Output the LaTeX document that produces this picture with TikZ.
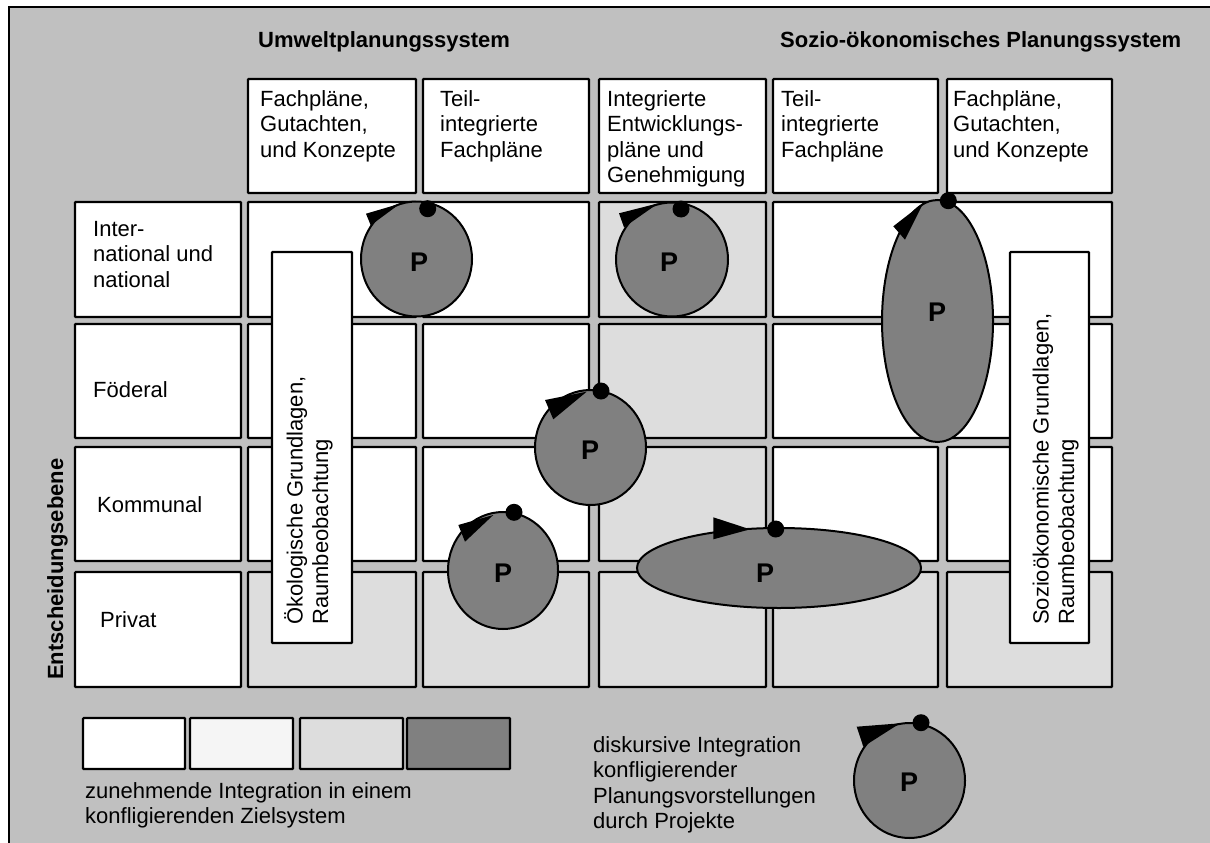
\documentclass[tikz,border=0pt]{standalone}
\usepackage{fontspec}
\setmainfont{Liberation Sans}
\usetikzlibrary{shapes.geometric}
\definecolor{bg}{HTML}{C0C0C0}
\definecolor{lg}{HTML}{DDDDDD}
\definecolor{vl}{HTML}{F5F5F5}
\definecolor{pg}{HTML}{808080}
\begin{document}
\begin{tikzpicture}[x=1pt,y=-1pt,
  cell/.style={draw=black, line width=2.2pt, rounded corners=0.8pt},
  txt/.style={font=\fontsize{22}{25.5}\selectfont, inner sep=0pt, align=left, anchor=base west},
  ttl/.style={font=\fontsize{22}{25.5}\selectfont\bfseries, inner sep=0pt, anchor=base west},
  pl/.style={font=\fontsize{27}{30}\selectfont\bfseries, inner sep=0pt},
  pshape/.style={ellipse, draw=black, line width=2pt, fill=pg, inner sep=0pt, outer sep=0pt},
  dotc/.style={fill=black},
  arr/.style={fill=black}]
\clip (0,0) rectangle (1210,843);
\useasboundingbox (0,0) rectangle (1210,843);
\fill[white] (0,0) rectangle (1210,843);
\draw[fill=bg, line width=2.5pt] (9,7) rectangle (1240,880);

% titles
\node[ttl] (t1) at (258,48) {Umweltplanungssystem};
\node[ttl] (t2) at (780,48) {Sozio-ökonomisches Planungssystem};

% header boxes
\draw[cell, fill=white] (248,79) rectangle (416,193);
\draw[cell, fill=white] (423,79) rectangle (589,193);
\draw[cell, fill=white] (599,79) rectangle (766,193);
\draw[cell, fill=white] (773,79) rectangle (938,193);
\draw[cell, fill=white] (947,79) rectangle (1112,193);
\node[txt] (h1) at (260,157) {Fachpläne,\\Gutachten,\\und Konzepte};
\node[txt] (h2) at (440,157) {Teil-\\integrierte\\Fachpläne};
\node[txt] (h3) at (607,182.5) {Integrierte\\Entwicklungs-\\pläne und\\Genehmigung};
\node[txt] (h4) at (781,157) {Teil-\\integrierte\\Fachpläne};
\node[txt] (h5) at (953,157) {Fachpläne,\\Gutachten,\\und Konzepte};

% row label boxes
\draw[cell, fill=white] (75,202) rectangle (241,317);
\draw[cell, fill=white] (75,324) rectangle (241,438);
\draw[cell, fill=white] (75,447) rectangle (241,561);
\draw[cell, fill=white] (75,572) rectangle (241,687);
\node[txt] (r1) at (93,287) {Inter-\\national und\\national};
\node[txt] (r2) at (93,397) {Föderal};
\node[txt] (r3) at (97,512) {Kommunal};
\node[txt] (r4) at (100,627) {Privat};

% grid row 1
\draw[cell, fill=white] (248,202) rectangle (416,317);
\draw[cell, fill=white] (423,202) rectangle (589,317);
\draw[cell, fill=lg] (599,202) rectangle (766,317);
\draw[cell, fill=white] (773,202) rectangle (938,317);
\draw[cell, fill=white] (947,202) rectangle (1112,317);
% row 2
\draw[cell, fill=white] (248,324) rectangle (416,438);
\draw[cell, fill=white] (423,324) rectangle (589,438);
\draw[cell, fill=lg] (599,324) rectangle (766,438);
\draw[cell, fill=white] (773,324) rectangle (938,438);
\draw[cell, fill=white] (947,324) rectangle (1112,438);
% row 3
\draw[cell, fill=white] (248,447) rectangle (416,561);
\draw[cell, fill=white] (423,447) rectangle (589,561);
\draw[cell, fill=lg] (599,447) rectangle (766,561);
\draw[cell, fill=white] (773,447) rectangle (938,561);
\draw[cell, fill=white] (947,447) rectangle (1112,561);
% row 4
\draw[cell, fill=lg] (248,572) rectangle (416,687);
\draw[cell, fill=lg] (423,572) rectangle (589,687);
\draw[cell, fill=lg] (599,572) rectangle (766,687);
\draw[cell, fill=lg] (773,572) rectangle (938,687);
\draw[cell, fill=lg] (947,572) rectangle (1112,687);

% vertical boxes
\draw[cell, fill=white] (272,252) rectangle (352,643);
\draw[cell, fill=white] (1010,252) rectangle (1089,643);
\node[txt, rotate=90] (v1) at (328,625) {Ökologische Grundlagen,\\Raumbeobachtung};
\node[txt, rotate=90] (v2) at (1074,625) {Sozioökonomische Grundlagen,\\Raumbeobachtung};

% axis label
\node[ttl, rotate=90] (ax) at (63,680) {Entscheidungsebene};

% P shapes
\node[pshape, minimum width=111pt, minimum height=115pt] (c1) at (416.5,259) {};
\node[pshape, minimum width=112pt, minimum height=114pt] (c2) at (672,259.5) {};
\node[pshape, minimum width=111pt, minimum height=115pt] (c3) at (590.5,447.5) {};
\node[pshape, minimum width=110pt, minimum height=117pt] (c4) at (503,570.5) {};
\node[pshape, minimum width=284pt, minimum height=80pt] (e5) at (779,568) {};
\node[pshape, minimum width=111pt, minimum height=242pt] (e6) at (937.5,321) {};
\node[pshape, minimum width=111pt, minimum height=115pt] (lc) at (909.5,780.5) {};

\node[pl] (p1) at (419,262) {P};
\node[pl] (p2) at (669,262) {P};
\node[pl] (p3) at (590,450) {P};
\node[pl] (p4) at (503,573) {P};
\node[pl] (p5) at (765,573) {P};
\node[pl] (p6) at (937,312) {P};
\node[pl] (p7) at (909,782) {P};

% arrowheads
\fill[arr] (366,213.7) -- (370.7,225.3) -- (400,203.7) -- cycle;
\fill[arr] (619,213.3) -- (624,227.3) -- (658.3,203.3) -- cycle;
\fill[arr] (545,400) -- (553.3,419.3) -- (586.7,391.7) -- cycle;
\fill[arr] (458.3,525) -- (465,541.7) -- (493.3,515) -- cycle;
\fill[arr] (713.3,517.3) -- (713.3,539.3) -- (750,529.3) -- cycle;
\fill[arr] (893.3,226.3) -- (905,239.7) -- (923.3,203) -- cycle;
\fill[arr] (856.7,726.7) -- (863.3,746.7) -- (900,723.3) -- cycle;

% dots
\fill[dotc] (427.7,208.7) circle (8.5pt);
\fill[dotc] (681,209) circle (8.5pt);
\fill[dotc] (601,391) circle (8.5pt);
\fill[dotc] (514,512.3) circle (8.5pt);
\fill[dotc] (775.7,529) circle (8.5pt);
\fill[dotc] (948.3,200.7) circle (8.5pt);
\fill[dotc] (921,722.7) circle (8.5pt);

% legend
\draw[cell, fill=white] (83,718) rectangle (185,769);
\draw[cell, fill=vl] (190,718) rectangle (293,769);
\draw[cell, fill=lg] (300,718) rectangle (403,769);
\draw[cell, fill=pg] (407,718) rectangle (510,769);
\node[txt] (l1) at (85,823.5) {zunehmende Integration in einem\\konfligierenden Zielsystem};
\node[txt] (l2) at (593,828.5) {diskursive Integration\\konfligierender\\Planungsvorstellungen\\durch Projekte};
\end{tikzpicture}
\end{document}
